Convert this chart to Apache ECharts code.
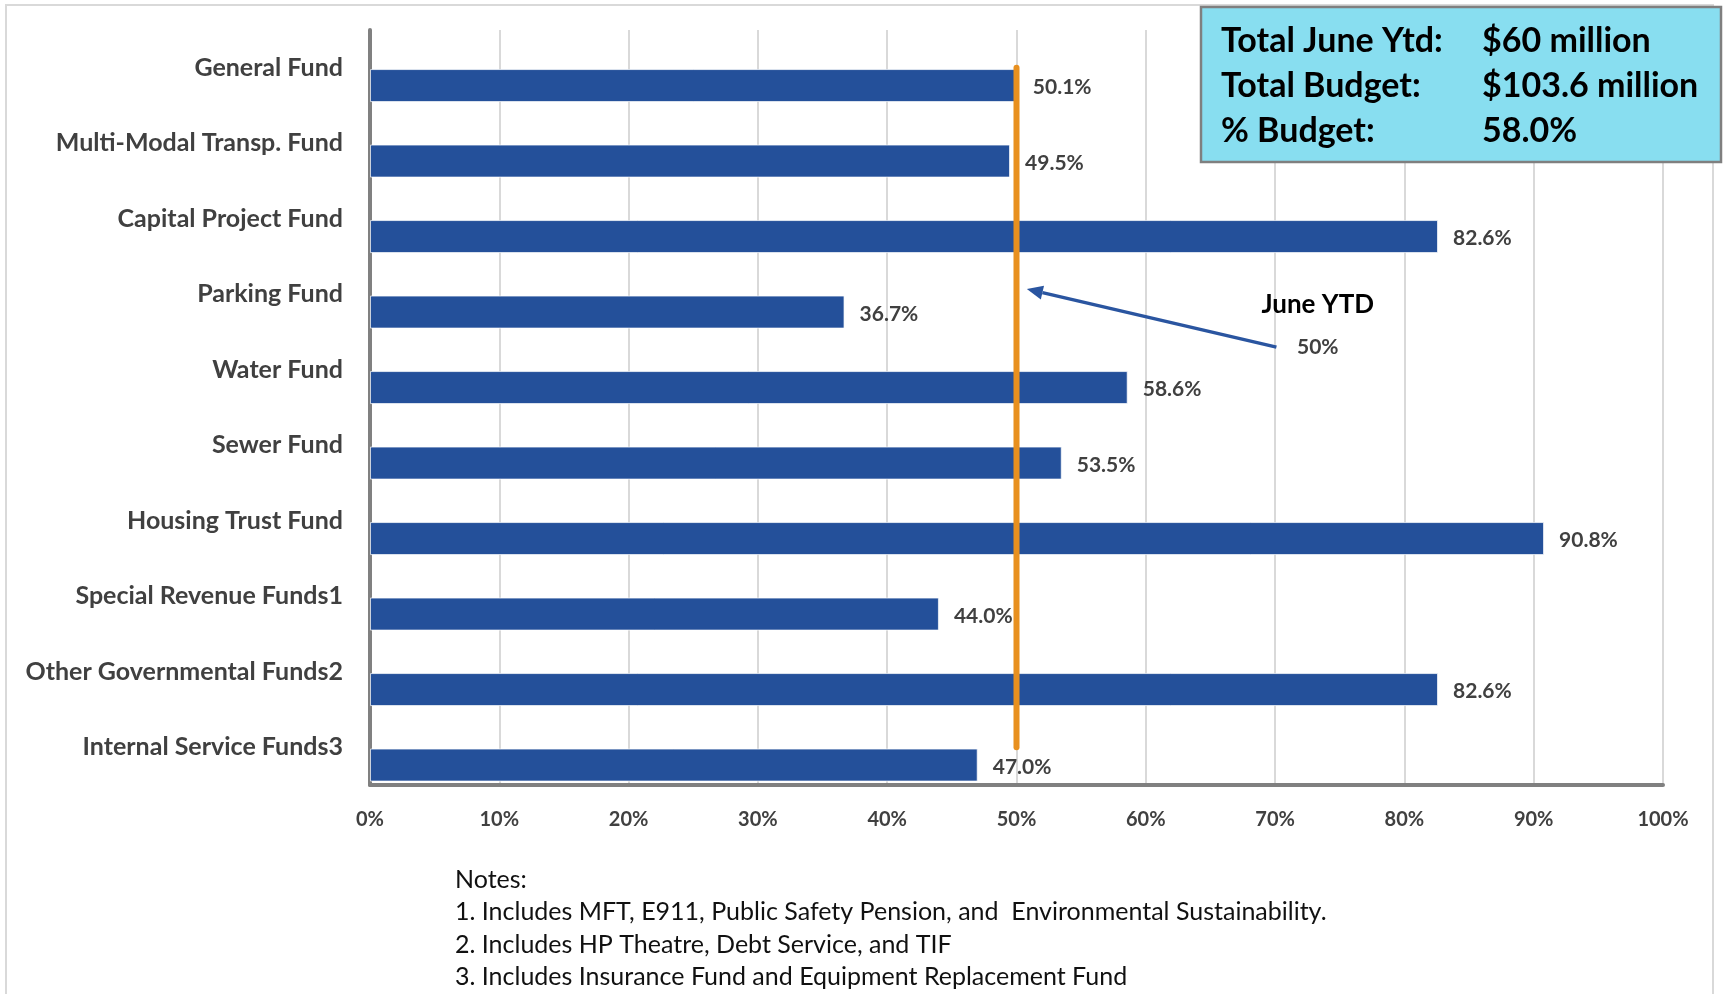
<!DOCTYPE html>
<html>
<head>
<meta charset="utf-8">
<script src="https://cdn.jsdelivr.net/npm/echarts@6/dist/echarts.min.js"></script>
<style>
  html, body { margin: 0; padding: 0; background: #ffffff; }
  #chart { width: 1726px; height: 994px; }
</style>
</head>
<body>
<div id="chart"></div>
<script>
// Fund names, top to bottom
const funds = [
  'General Fund',
  'Multi-Modal Transp. Fund',
  'Capital Project Fund',
  'Parking Fund',
  'Water Fund',
  'Sewer Fund',
  'Housing Trust Fund',
  'Special Revenue Funds1',
  'Other Governmental Funds2',
  'Internal Service Funds3'
];

// Year-to-date share of budget, percent
const pctOfBudget = [50.1, 49.5, 82.6, 36.7, 58.6, 53.5, 90.8, 44.0, 82.6, 47.0];

// Percent axis ticks
const axisMin = 0;
const axisMax = 100;
const axisStep = 10;

// Point in the fiscal year (June = half of the year)
const ytdMark = 50;
const ytdTitle = 'June YTD';

// Summary box rows
const summaryLabels = ['Total June Ytd:', 'Total Budget:', '% Budget:'];
const summaryValues = ['$60 million', '$103.6 million', '58.0%'];

// Footnotes
const notes = [
  'Notes:',
  '1. Includes MFT, E911, Public Safety Pension, and  Environmental Sustainability.',
  '2. Includes HP Theatre, Debt Service, and TIF',
  '3. Includes Insurance Fund and Equipment Replacement Fund'
];

const FONT = 'Lato';
const chart = echarts.init(document.getElementById('chart'), null, { renderer: 'canvas' });

const option = {
  backgroundColor: '#ffffff',
  animation: false,
  grid: { left: 370, right: 63, top: 30, bottom: 209, containLabel: false },
  xAxis: {
    type: 'value',
    min: axisMin,
    max: axisMax,
    interval: axisStep,
    axisLine: { show: true, lineStyle: { color: '#808080', width: 4 } },
    axisTick: { show: false },
    splitLine: { show: true, lineStyle: { color: '#d9d9d9', width: 2 } },
    axisLabel: {
      formatter: '{value}%',
      fontFamily: FONT, fontWeight: 'bold', fontSize: 20, color: '#404040',
      margin: 25
    }
  },
  yAxis: {
    type: 'category',
    data: funds,
    inverse: true,
    axisLine: { show: true, lineStyle: { color: '#808080', width: 4 } },
    axisTick: { show: false },
    splitLine: { show: false },
    axisLabel: {
      fontFamily: FONT, fontWeight: 'bold', fontSize: 25, color: '#404040',
      margin: 27
    }
  },
  series: [
    {
      // empty slot that shares each band, so the fund bar sits in the lower half
      type: 'bar',
      data: [],
      barWidth: 33,
      barGap: '8%',
      silent: true
    },
    {
      name: '% of Budget',
      type: 'bar',
      data: pctOfBudget,
      barWidth: 33,
      barGap: '8%',
      itemStyle: { color: '#24509a', borderColor: 'rgba(255,255,255,0.7)', borderWidth: 1 },
      label: {
        show: true,
        position: 'right',
        distance: 15,
        offset: [0, 2],
        formatter: p => p.value.toFixed(1) + '%',
        fontFamily: FONT, fontWeight: 'bold', fontSize: 21, color: '#404040'
      }
    }
  ]
};

chart.setOption(option);

// Pixel position for a percent value and a (possibly fractional) fund row
function toPx(xVal, row) {
  const i = Math.floor(row);
  const a = chart.convertToPixel({ gridIndex: 0 }, [xVal, i]);
  const b = chart.convertToPixel({ gridIndex: 0 }, [xVal, i + 1]);
  return [a[0], a[1] + (b[1] - a[1]) * (row - i)];
}

// YTD reference line, from the first fund row to the last
const ytdTop = toPx(ytdMark, 0);
const ytdBottom = toPx(ytdMark, funds.length - 1);

// Callout pointing at the YTD line
const arrowTail = toPx(70.1, 3.70);
const arrowTip = toPx(ytdMark + 0.8, 2.93);
const ang = Math.atan2(arrowTip[1] - arrowTail[1], arrowTip[0] - arrowTail[0]);
const headLen = 16, headHalf = 7;
const baseX = arrowTip[0] - headLen * Math.cos(ang);
const baseY = arrowTip[1] - headLen * Math.sin(ang);
const headPts = [
  arrowTip,
  [baseX + headHalf * Math.sin(ang), baseY - headHalf * Math.cos(ang)],
  [baseX - headHalf * Math.sin(ang), baseY + headHalf * Math.cos(ang)]
];
const titlePos = toPx(73.3, 3.14);
const markPos = toPx(73.3, 3.70);

const graphics = [
  {
    type: 'rect', z: -10, silent: true,
    shape: { x: 6, y: 5, width: 1707, height: 1200 },
    style: { fill: 'none', stroke: '#d9d9d9', lineWidth: 2 }
  },
  {
    type: 'line', z: 30, silent: true,
    shape: { x1: ytdTop[0], y1: ytdTop[1], x2: ytdBottom[0], y2: ytdBottom[1] },
    style: { stroke: '#e8901f', lineWidth: 6, lineCap: 'round' }
  },
  {
    type: 'line', z: 50, silent: true,
    shape: { x1: arrowTail[0], y1: arrowTail[1], x2: baseX, y2: baseY },
    style: { stroke: '#2a55a0', lineWidth: 3.5 }
  },
  {
    type: 'polygon', z: 50, silent: true,
    shape: { points: headPts },
    style: { fill: '#2a55a0' }
  },
  {
    type: 'text', z: 50, x: titlePos[0], y: titlePos[1],
    style: { text: ytdTitle, align: 'center', verticalAlign: 'middle',
             font: 'bold 26px ' + FONT, fill: '#000000' }
  },
  {
    type: 'text', z: 50, x: markPos[0], y: markPos[1],
    style: { text: ytdMark + '%', align: 'center', verticalAlign: 'middle',
             font: 'bold 21px ' + FONT, fill: '#404040' }
  },
  {
    type: 'rect', z: 60, silent: true,
    shape: { x: 1201, y: 7, width: 520, height: 155 },
    style: { fill: '#88def0', stroke: '#7f7f7f', lineWidth: 2.5 }
  }
];

const rowY = [41, 86, 131];
summaryLabels.forEach((t, k) => {
  graphics.push({
    type: 'text', z: 61, x: 1221, y: rowY[k],
    style: { text: t, align: 'left', verticalAlign: 'middle', font: 'bold 34px ' + FONT, fill: '#000000' }
  });
  graphics.push({
    type: 'text', z: 61, x: 1482, y: rowY[k],
    style: { text: summaryValues[k], align: 'left', verticalAlign: 'middle', font: 'bold 34px ' + FONT, fill: '#000000' }
  });
});

const noteY = [880, 912, 945, 977];
notes.forEach((t, k) => {
  graphics.push({
    type: 'text', z: 40, x: 455, y: noteY[k],
    style: { text: t, align: 'left', verticalAlign: 'middle', font: '25px ' + FONT, fill: '#111111' }
  });
});

chart.setOption({ graphic: graphics });
</script>
</body>
</html>
